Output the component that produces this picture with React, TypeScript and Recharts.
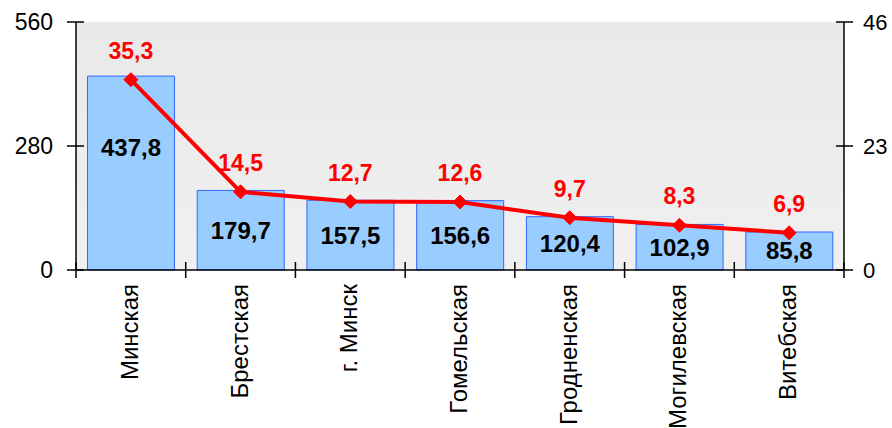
import React from 'react';
import { ComposedChart, Bar, Line, XAxis, YAxis, CartesianGrid, LabelList } from 'recharts';

const categories = ['Минская', 'Брестская', 'г. Минск', 'Гомельская', 'Гродненская', 'Могилевская', 'Витебская'];
const barValues = [437.8, 179.7, 157.5, 156.6, 120.4, 102.9, 85.8];
const lineValues = [35.3, 14.5, 12.7, 12.6, 9.7, 8.3, 6.9];
const leftTicks = [0, 280, 560];
const rightTicks = [0, 23, 46];

const data = categories.map((name, i) => ({ name, bar: barValues[i], line: lineValues[i] }));

const W = 892;
const H = 428;
const PLOT_LEFT = 76;
const PLOT_RIGHT = 844;
const PLOT_TOP = 22;
const PLOT_BOTTOM = 270;
const BAND = (PLOT_RIGHT - PLOT_LEFT) / categories.length;
const FONT = 'Liberation Sans, Arial, sans-serif';

const fmt = (v: number) => String(v).replace('.', ',');

const XTick = (props: any) => {
  const { x, y, payload, index } = props;
  const left = x - BAND / 2;
  const right = x + BAND / 2;
  return (
    <g>
      <line x1={left} x2={left} y1={y - 8} y2={y + 8} stroke="#000" strokeWidth={1.5} />
      {index === categories.length - 1 && (
        <line x1={right} x2={right} y1={y - 8} y2={y + 8} stroke="#000" strokeWidth={1.5} />
      )}
      <text
        x={0}
        y={0}
        transform={`translate(${x + 7}, ${y + 14}) rotate(-90)`}
        textAnchor="end"
        fontSize={24}
        fontFamily={FONT}
        fill="#000"
      >
        {payload.value}
      </text>
    </g>
  );
};

const LeftTick = (props: any) => {
  const { x, y, payload } = props;
  return (
    <g>
      <line x1={x - 9} x2={x + 8} y1={y} y2={y} stroke="#000" strokeWidth={1.5} />
      <text x={x - 23} y={y} dy="0.35em" textAnchor="end" fontSize={23} fontFamily={FONT} fill="#000">
        {payload.value}
      </text>
    </g>
  );
};

const RightTick = (props: any) => {
  const { x, y, payload } = props;
  return (
    <g>
      <line x1={x - 8} x2={x + 9} y1={y} y2={y} stroke="#000" strokeWidth={1.5} />
      <text x={x + 19} y={y} dy="0.35em" textAnchor="start" fontSize={22} fontFamily={FONT} fill="#000">
        {payload.value}
      </text>
    </g>
  );
};

const Diamond = (props: any) => {
  const { cx, cy } = props;
  if (cx == null || cy == null) return null;
  const s = 7;
  return (
    <polygon
      points={`${cx},${cy - s} ${cx + s},${cy} ${cx},${cy + s} ${cx - s},${cy}`}
      fill="#ff0000"
      stroke="#ff0000"
    />
  );
};

const BarLabel = (props: any) => {
  const { x, y, width, height, value } = props;
  const cy = height > 150 ? y + height * 0.37 : y + height / 2;
  return (
    <text
      x={x + width / 2}
      y={cy}
      dy="0.35em"
      textAnchor="middle"
      fontSize={24}
      fontWeight="bold"
      fontFamily={FONT}
      fill="#000"
    >
      {fmt(value)}
    </text>
  );
};

const LineLabel = (props: any) => {
  const { x, y, value } = props;
  return (
    <text
      x={x}
      y={y - 21}
      textAnchor="middle"
      fontSize={23}
      fontWeight="bold"
      fontFamily={FONT}
      fill="#ff0000"
    >
      {fmt(value)}
    </text>
  );
};

export default function App() {
  return (
    <div style={{ position: 'absolute', left: 0, top: 0, width: W, height: H, background: '#fff' }}>
      <ComposedChart
        width={W}
        height={H}
        data={data}
        margin={{ top: PLOT_TOP, right: 0, bottom: 0, left: 0 }}
        barCategoryGap="10.5%"
      >
        <defs>
          <linearGradient id="bgGrad" x1="0" y1="0" x2="0" y2="1">
            <stop offset="0%" stopColor="#e9e9e9" />
            <stop offset="100%" stopColor="#f0f0f0" />
          </linearGradient>
        </defs>
        <CartesianGrid horizontal={false} vertical={false} fill="url(#bgGrad)" stroke="none" />
        <XAxis
          dataKey="name"
          height={H - PLOT_BOTTOM}
          interval={0}
          tickSize={0}
          tickMargin={0}
          tickLine={false}
          axisLine={{ stroke: '#000', strokeWidth: 1.5 }}
          tick={<XTick />}
        />
        <YAxis
          yAxisId="left"
          orientation="left"
          width={PLOT_LEFT}
          domain={[0, 560]}
          ticks={leftTicks}
          interval={0}
          tickSize={0}
          tickMargin={0}
          tickLine={false}
          axisLine={{ stroke: '#000', strokeWidth: 1.5 }}
          tick={<LeftTick />}
        />
        <YAxis
          yAxisId="right"
          orientation="right"
          width={W - PLOT_RIGHT}
          domain={[0, 46]}
          ticks={rightTicks}
          interval={0}
          tickSize={0}
          tickMargin={0}
          tickLine={false}
          axisLine={{ stroke: '#000', strokeWidth: 1.5 }}
          tick={<RightTick />}
        />
        <Bar yAxisId="left" dataKey="bar" fill="#99ccff" stroke="#3366ff" strokeWidth={1} isAnimationActive={false}>
          <LabelList dataKey="bar" content={<BarLabel />} />
        </Bar>
        <Line
          yAxisId="right"
          dataKey="line"
          type="linear"
          stroke="#ff0000"
          strokeWidth={4}
          dot={<Diamond />}
          activeDot={false}
          isAnimationActive={false}
        >
          <LabelList dataKey="line" content={<LineLabel />} />
        </Line>
      </ComposedChart>
    </div>
  );
}
